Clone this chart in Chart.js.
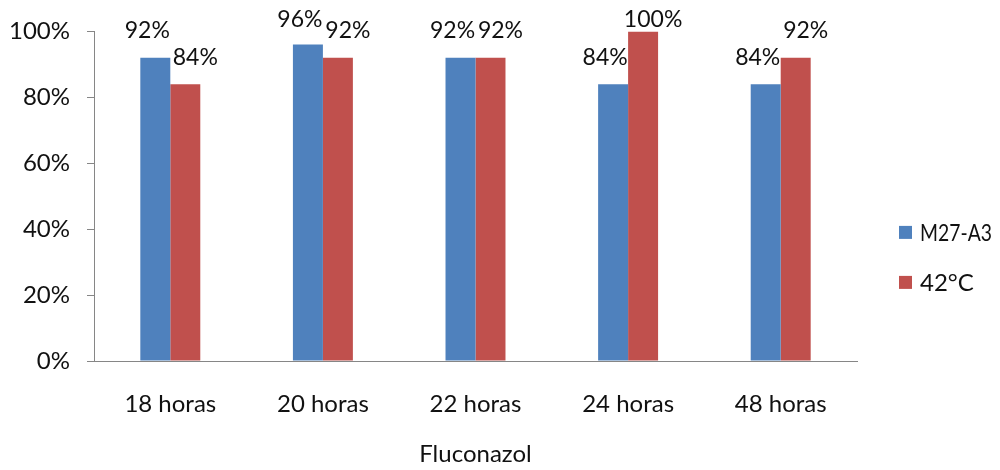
<!DOCTYPE html>
<html>
<head>
<meta charset="utf-8">
<script src="https://cdn.jsdelivr.net/npm/chart.js@4/dist/chart.umd.min.js"></script>
<style>
html,body{margin:0;padding:0;background:#fff;}
#wrap{width:1000px;height:470px;position:relative;}
</style>
</head>
<body>
<div id="wrap"><canvas id="c" width="1000" height="470"></canvas></div>
<script>
const categories = ["18 horas", "20 horas", "22 horas", "24 horas", "48 horas"];
const seriesNames = ["M27-A3", "42°C"];
const m27Values = [92, 96, 92, 84, 84];
const c42Values = [84, 92, 92, 100, 92];
const yTicks = [0, 20, 40, 60, 80, 100];
const xTitle = "Fluconazol";

const FONT = "Lato, 'Liberation Sans', sans-serif";
const FS = 24;
const LABEL_FS = 23;
const TEXT = "#111";
const AXIS = "#868686";
const COLORS = ["#4F81BD", "#C0504D"];

const labelPlugin = {
  id: 'barLabels',
  afterDatasetsDraw(chart) {
    const ctx = chart.ctx;
    ctx.save();
    ctx.font = LABEL_FS + "px " + FONT;
    ctx.fillStyle = TEXT;
    ctx.textAlign = "center";
    ctx.textBaseline = "middle";
    const shifts = [-8, 10];
    chart.data.datasets.forEach((ds, di) => {
      const meta = chart.getDatasetMeta(di);
      meta.data.forEach((bar, i) => {
        const y = Math.max(bar.y - 27, 20);
        ctx.fillText(ds.data[i] + "%", bar.x + shifts[di], y);
      });
    });
    ctx.restore();
  }
};

const legendPlugin = {
  id: 'sideLegend',
  afterDraw(chart) {
    const ctx = chart.ctx;
    const a = chart.chartArea;
    ctx.save();
    ctx.font = FS + "px " + FONT;
    ctx.textAlign = "left";
    ctx.textBaseline = "middle";
    chart.data.datasets.forEach((ds, di) => {
      const x = a.right + 42;
      const cy = a.top + 201 + di * 50;
      ctx.fillStyle = ds.backgroundColor;
      ctx.fillRect(x, cy - 6.5, 13, 13);
      ctx.fillStyle = TEXT;
      ctx.fillText(ds.label, x + 21, cy + 1, 72);
    });
    ctx.restore();
  }
};

new Chart(document.getElementById('c'), {
  type: 'bar',
  data: {
    labels: categories,
    datasets: [
      { label: seriesNames[0], data: m27Values, backgroundColor: COLORS[0], categoryPercentage: 0.393, barPercentage: 1 },
      { label: seriesNames[1], data: c42Values, backgroundColor: COLORS[1], categoryPercentage: 0.393, barPercentage: 1 }
    ]
  },
  options: {
    responsive: false,
    animation: false,
    devicePixelRatio: 1,
    layout: { padding: { top: 28, right: 143, left: 0, bottom: 0 } },
    plugins: { legend: { display: false }, tooltip: { enabled: false } },
    scales: {
      x: {
        grid: { display: false },
        border: { display: true, color: AXIS, width: 1 },
        ticks: { color: TEXT, font: { family: FONT, size: FS }, padding: 21, maxRotation: 0 },
        title: { display: true, text: xTitle, color: TEXT, font: { family: FONT, size: FS }, padding: { top: 0, bottom: 1 } },
        afterFit(scale) { scale.height = 109; }
      },
      y: {
        min: 0, max: 100,
        afterBuildTicks(scale) { scale.ticks = yTicks.map(v => ({ value: v })); },
        grid: { display: true, drawOnChartArea: false, drawTicks: true, tickLength: 7, color: AXIS },
        border: { display: true, color: AXIS, width: 1 },
        ticks: { color: TEXT, font: { family: FONT, size: FS }, padding: 17, callback: v => v + "%" },
        afterFit(scale) { scale.width = 94; }
      }
    }
  },
  plugins: [labelPlugin, legendPlugin]
});
</script>
</body>
</html>
